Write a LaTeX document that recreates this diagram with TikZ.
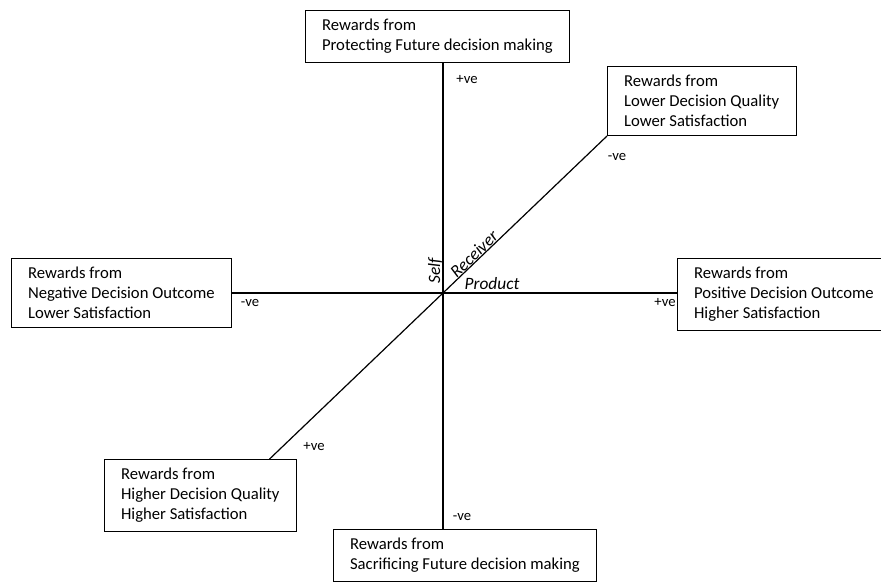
\documentclass[tikz,border=0pt]{standalone}
\usepackage{fontspec}
\setmainfont{Carlito}
\usepackage{tikz}
\usetikzlibrary{calc,positioning}

\begin{document}
\begin{tikzpicture}[x=0.75pt, y=-0.75pt,
    box/.style={rectangle, draw, line width=0.6pt, align=left, anchor=north west,
        inner xsep=12.5pt, inner ysep=6.5pt, font=\fontsize{12.5}{15}\selectfont},
    sign/.style={inner sep=1pt, font=\fontsize{11}{13}\selectfont},
    dim/.style={inner sep=0pt, font=\fontsize{13}{15}\selectfont\itshape},
    axis/.style={line width=0.9pt}]
    \useasboundingbox (0,0) rectangle (881,583);
    \coordinate (c) at (443,293);

    \node[box] (prot) at (305,10) {Rewards from\\Protecting Future decision making};
    \node[box, anchor=south west] (lowq) at (607,136) {Rewards from\\Lower Decision Quality\\Lower Satisfaction};
    \node[box] (neg) at (11,258) {Rewards from\\Negative Decision Outcome\\Lower Satisfaction};
    \node[box] (pos) at (677,258) {Rewards from\\Positive Decision Outcome\\Higher Satisfaction};
    \node[box] (highq) at (104,459) {Rewards from\\Higher Decision Quality\\Higher Satisfaction};
    \node[box] (sacr) at (333,529) {Rewards from\\Sacrificing Future decision making};

    \draw[axis] (c |- prot.south) -- (c |- sacr.north);
    \draw[axis] (c -| neg.east) -- (c -| pos.west);
    \draw[axis] (lowq.south west) -- (intersection of lowq.south west--c and highq.north west--highq.north east);

    \node[sign] (topsign) at (467,80) {+ve};
    \node[sign] (botsign) at (462,517) {-ve};
    \node[sign] (leftsign) at (250,303) {-ve};
    \node[sign] (rightsign) at (665,303) {+ve};
    \node[sign] (lowqsign) at (617,157) {-ve};
    \node[sign] (highqsign) at (314,447) {+ve};

    \node[dim, rotate=90] (self) at (435,271) {Self};
    \node[dim, rotate=44] (recv) at (474,254) {Receiver};
    \node[dim] (prod) at (492,284) {Product};
\end{tikzpicture}
\end{document}
